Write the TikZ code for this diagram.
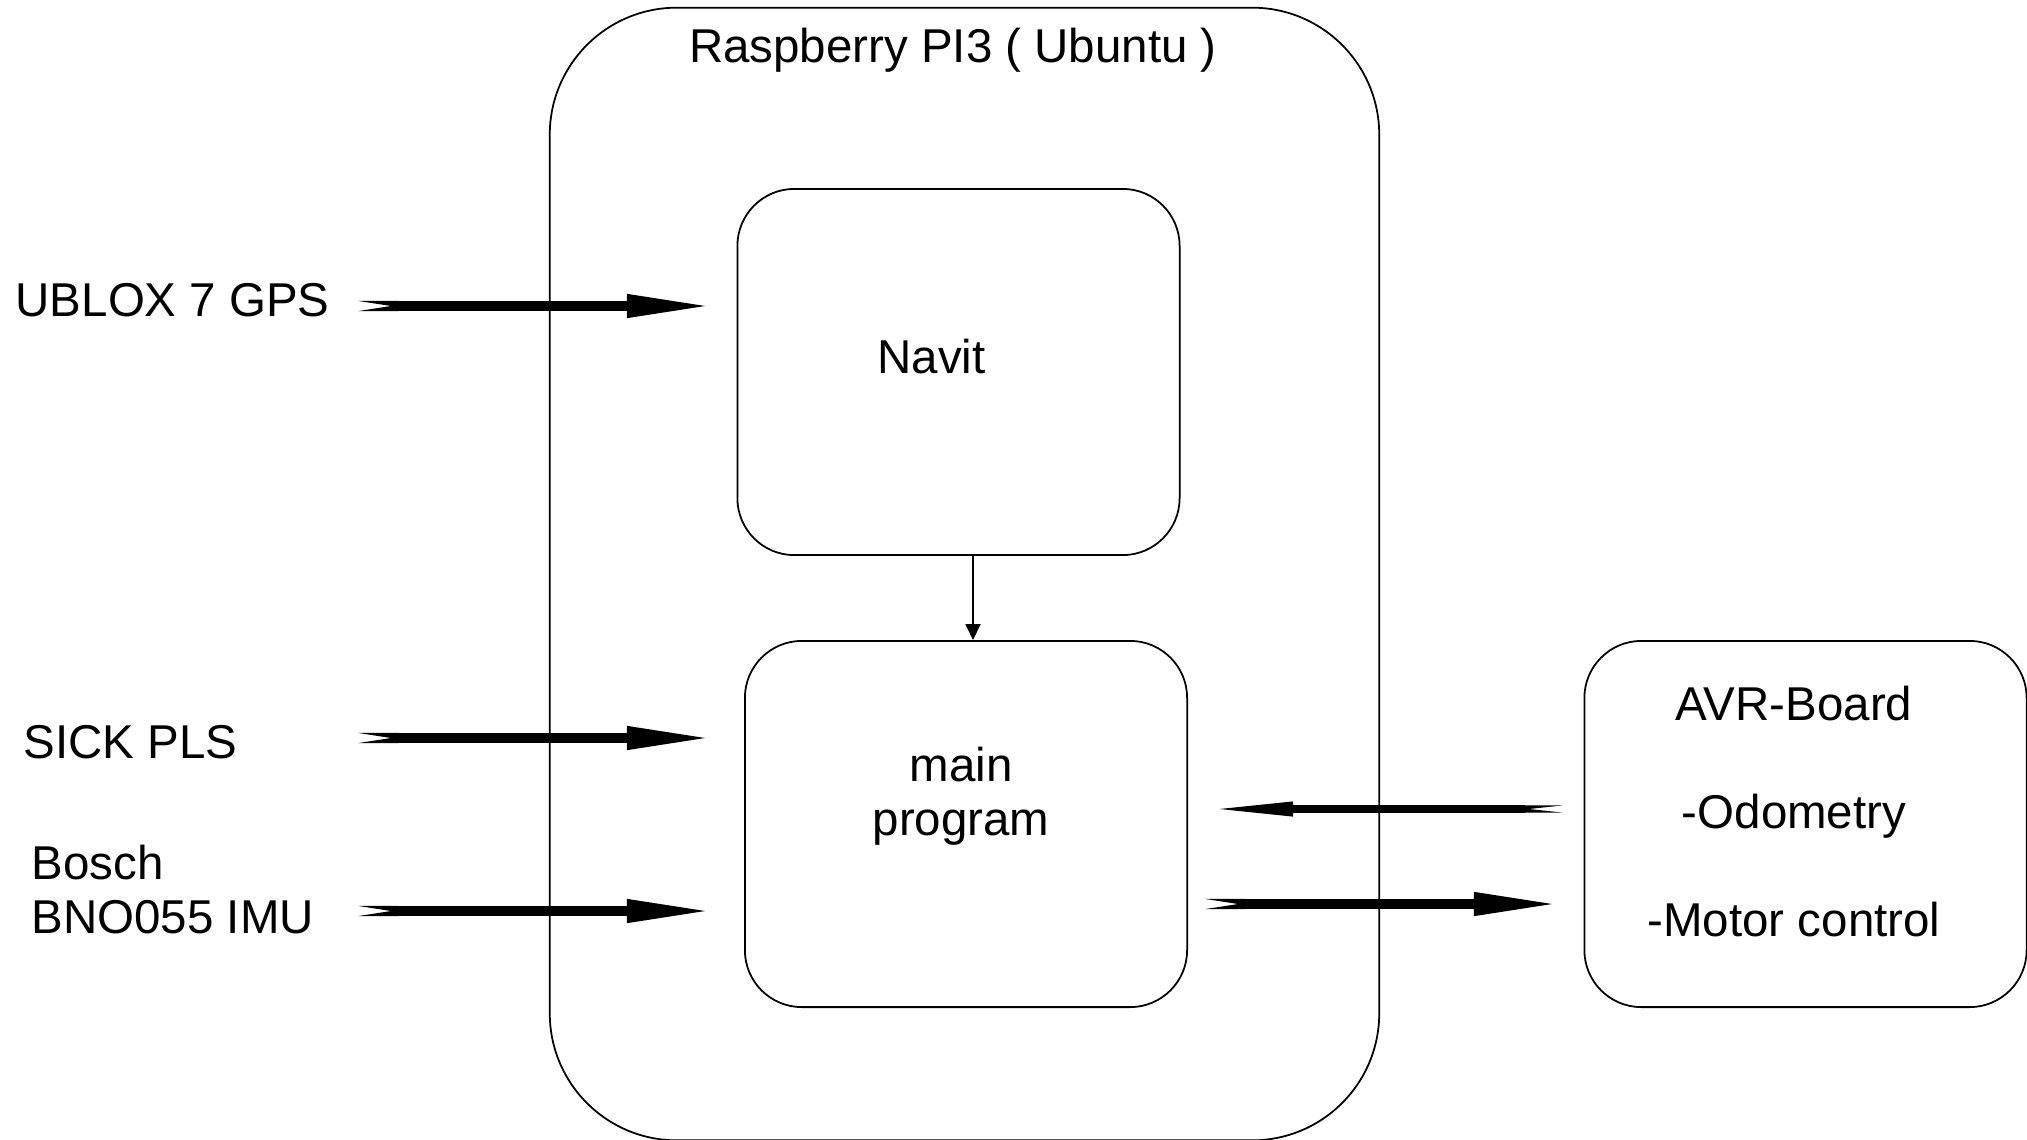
\documentclass[tikz,border=0pt]{standalone}
\usepackage{fontspec}
\setmainfont{Liberation Sans}
\usetikzlibrary{positioning}
\usetikzlibrary{arrows.meta}

\begin{document}
\begin{tikzpicture}[x=0.01cm,y=-0.01cm,
	font=\fontsize{13.5pt}{15.3pt}\selectfont,
	box/.style={draw,line width=0.5pt,rounded corners=0.57cm,
		minimum width=4.42cm,minimum height=3.66cm,inner sep=0pt},
	txt/.style={inner sep=0pt,anchor=base},
	bus/.style={line width=2.9pt,
		{Triangle Cap[reversed,length=0.33cm]}-{Triangle[length=0.88cm,width=0.21cm]}},
	thin bus/.style={line width=2pt,
		{Triangle Cap[reversed,length=0.33cm]}-{Triangle[length=0.86cm,width=0.13cm]}}]
	\useasboundingbox (0,0) rectangle (2027,1139);
	
	% raspberry frame
	\node[box,rounded corners=1.27cm,minimum width=8.29cm,minimum height=11.32cm] (pi) at (964.5,574) {};
	\node[txt] (pi title) at (953,62) {Raspberry PI3 ( Ubuntu )};
	
	\node[box] (navit) at (958.5,372) {};
	\node[txt] (navit text) at (931.5,373) {Navit};
	\node[box] (main) at (966,824) {};
	\node[txt,align=center] (main text) at (961,835) {main\\program};
	\node[box] (avr) at (1805.5,824) {};
	\node[txt,align=center] (avr text) at (1794,936) {AVR-Board\\[15.3pt]-Odometry\\[15.3pt]-Motor control};
	
	% sensors
	\node[txt,anchor=base west] (gps) at (15,316) {UBLOX 7 GPS};
	\node[txt,anchor=base west] (sick) at (23,758) {SICK PLS};
	\node[txt,anchor=base west,align=left] (imu) at (31,933) {Bosch\\BNO055 IMU};
	
	\coordinate (gps tail) at (358,306);
	\coordinate (gps tip) at (715,306);
	\coordinate (sick tail) at (358,738);
	\coordinate (sick tip) at (715,738);
	\coordinate (imu tail) at (358,911);
	\coordinate (imu tip) at (715,911);
	\coordinate (tx tail) at (1205,904);
	\coordinate (tx tip) at (1562,904);
	\coordinate (rx tail) at (1562,809);
	\coordinate (rx tip) at (1207,809);
	
	\draw[bus] (gps tail) -- (gps tip);
	\draw[bus] (sick tail) -- (sick tip);
	\draw[bus] (imu tail) -- (imu tip);
	\draw[bus] (tx tail) -- (tx tip);
	\draw[thin bus] (rx tail) -- (rx tip);
	
	\draw[line width=0.5pt,-{Triangle[length=0.16cm,width=0.15cm]}]
	([xshift=0.145cm]navit.south) -- ([xshift=0.07cm]main.north);
\end{tikzpicture}
\end{document}
